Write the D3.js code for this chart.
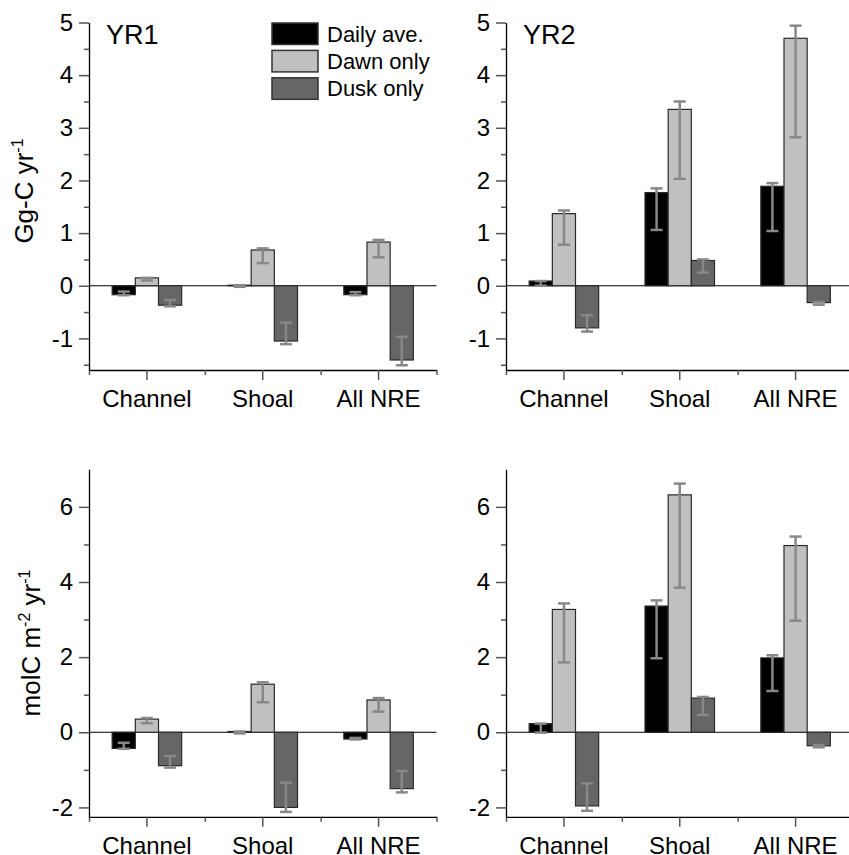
<!DOCTYPE html>
<html>
<head>
<meta charset="utf-8">
<script src="https://cdn.jsdelivr.net/npm/d3@7"></script>
<style>
  body { margin: 0; background: #fff; }
  text { font-family: "Liberation Sans", Arial, sans-serif; }
</style>
</head>
<body>
<svg width="849" height="855"></svg>
<script>
var categories = ["Channel", "Shoal", "All NRE"];
var series = ["Daily ave.", "Dawn only", "Dusk only"];
var colors = ["#000000", "#c0c0c0", "#666666"];

// per category: [daily, dawn, dusk]
var ggYR1 = [[-0.17, 0.15, -0.37], [0.01, 0.68, -1.05], [-0.17, 0.83, -1.41]];
var ggYR1Lo = [[-0.18, 0.10, -0.39], [-0.02, 0.43, -1.11], [-0.18, 0.54, -1.51]];
var ggYR1Hi = [[-0.11, 0.15, -0.27], [0.01, 0.71, -0.70], [-0.12, 0.87, -0.97]];

var ggYR2 = [[0.09, 1.37, -0.80], [1.77, 3.35, 0.48], [1.89, 4.70, -0.32]];
var ggYR2Lo = [[0.00, 0.78, -0.87], [1.06, 2.03, 0.25], [1.04, 2.82, -0.36]];
var ggYR2Hi = [[0.09, 1.43, -0.56], [1.85, 3.50, 0.50], [1.95, 4.94, -0.31]];

var molYR1 = [[-0.43, 0.35, -0.89], [0.02, 1.28, -2.00], [-0.18, 0.86, -1.50]];
var molYR1Lo = [[-0.44, 0.24, -0.94], [-0.03, 0.80, -2.12], [-0.19, 0.55, -1.60]];
var molYR1Hi = [[-0.28, 0.38, -0.63], [0.02, 1.33, -1.34], [-0.15, 0.91, -1.03]];

var molYR2 = [[0.23, 3.27, -1.96], [3.36, 6.32, 0.91], [1.98, 4.97, -0.36]];
var molYR2Lo = [[-0.01, 1.86, -2.09], [1.97, 3.85, 0.46], [1.10, 2.97, -0.40]];
var molYR2Hi = [[0.23, 3.43, -1.36], [3.51, 6.62, 0.94], [2.05, 5.21, -0.34]];

var ggTicks = [-1, 0, 1, 2, 3, 4, 5];
var ggMinor = [-1.5, -0.5, 0.5, 1.5, 2.5, 3.5, 4.5];
var molTicks = [-2, 0, 2, 4, 6];
var molMinor = [-1, 1, 3, 5];

var svg = d3.select("svg"),
    W = 347.5,
    H = 347.5;

var panels = [
  {left: 89, top: 22.5, vals: ggYR1, lo: ggYR1Lo, hi: ggYR1Hi, domain: [-1.6, 5], ticks: ggTicks, minor: ggMinor, label: "YR1"},
  {left: 506, top: 22.5, vals: ggYR2, lo: ggYR2Lo, hi: ggYR2Hi, domain: [-1.6, 5], ticks: ggTicks, minor: ggMinor, label: "YR2"},
  {left: 89, top: 469.3, vals: molYR1, lo: molYR1Lo, hi: molYR1Hi, domain: [-2.25, 7], ticks: molTicks, minor: molMinor},
  {left: 506, top: 469.3, vals: molYR2, lo: molYR2Lo, hi: molYR2Hi, domain: [-2.25, 7], ticks: molTicks, minor: molMinor}
];

panels.forEach(function(p) {
  var g = svg.append("g").attr("transform", "translate(" + p.left + "," + p.top + ")");

  var x = d3.scaleBand().domain(categories).range([0, W]);
  var xs = d3.scaleBand().domain(series).range([x.bandwidth() * 0.2, x.bandwidth() * 0.8]);
  var xl = d3.scaleLinear().domain([0, 3]).range([0, W]);
  var y = d3.scaleLinear().domain(p.domain).range([H, 0]);

  // zero line
  g.append("line")
    .attr("x1", 0).attr("x2", W)
    .attr("y1", y(0)).attr("y2", y(0))
    .attr("stroke", "#000").attr("stroke-width", 1);

  var rows = [];
  categories.forEach(function(c, i) {
    series.forEach(function(s, j) {
      rows.push({cat: c, s: s, j: j, v: p.vals[i][j], lo: p.lo[i][j], hi: p.hi[i][j]});
    });
  });

  g.selectAll(".bar")
    .data(rows)
    .enter().append("rect")
    .attr("class", "bar")
    .attr("x", function(d) { return x(d.cat) + xs(d.s); })
    .attr("width", xs.bandwidth())
    .attr("y", function(d) { return y(Math.max(0, d.v)); })
    .attr("height", function(d) { return Math.abs(y(d.v) - y(0)); })
    .attr("fill", function(d) { return colors[d.j]; })
    .attr("stroke", "#2a2a2a")
    .attr("stroke-width", 1.2);

  // error bars
  var eb = g.selectAll(".err")
    .data(rows)
    .enter().append("g")
    .attr("class", "err")
    .attr("stroke", "#888")
    .attr("stroke-width", 2.5);

  eb.append("line")
    .attr("x1", function(d) { return x(d.cat) + xs(d.s) + xs.bandwidth() / 2; })
    .attr("x2", function(d) { return x(d.cat) + xs(d.s) + xs.bandwidth() / 2; })
    .attr("y1", function(d) { return y(d.lo); })
    .attr("y2", function(d) { return y(d.hi); });

  ["lo", "hi"].forEach(function(k) {
    eb.append("line")
      .attr("x1", function(d) { return x(d.cat) + xs(d.s) + xs.bandwidth() / 2 - 6; })
      .attr("x2", function(d) { return x(d.cat) + xs(d.s) + xs.bandwidth() / 2 + 6; })
      .attr("y1", function(d) { return y(d[k]); })
      .attr("y2", function(d) { return y(d[k]); });
  });

  // axes
  g.append("g")
    .attr("transform", "translate(0," + H + ")")
    .call(d3.axisBottom(x).tickSize(10).tickSizeOuter(0).tickPadding(10));
  g.append("g")
    .attr("transform", "translate(0," + H + ")")
    .call(d3.axisBottom(xl).tickValues([0, 1, 2, 3]).tickSize(5).tickFormat(""))
    .select(".domain").remove();

  g.append("g")
    .call(d3.axisLeft(y).tickValues(p.ticks).tickSize(10).tickSizeOuter(0).tickPadding(6)
      .tickFormat(function(d) { return String(d); }));
  g.append("g")
    .call(d3.axisLeft(y).tickValues(p.minor).tickSize(5).tickFormat(""))
    .select(".domain").remove();

  g.selectAll(".domain").attr("stroke", "#000").attr("stroke-width", 1.3);
  g.selectAll(".tick line").attr("stroke", "#555").attr("stroke-width", 1.5);
  g.selectAll(".tick text")
    .attr("fill", "#000")
    .style("font-size", "24px")
    .style("font-family", "'Liberation Sans', Arial, sans-serif");

  if (p.label) {
    g.append("text")
      .attr("x", 17).attr("y", 21)
      .style("font-size", "27px")
      .text(p.label);
  }
});

// y axis titles
var t1 = svg.append("text")
  .attr("transform", "translate(33,191) rotate(-90)")
  .attr("text-anchor", "middle")
  .style("font-size", "26px");
t1.append("tspan").text("Gg-C yr");
t1.append("tspan").attr("dy", -10).style("font-size", "16px").text("-1");

var t2 = svg.append("text")
  .attr("transform", "translate(40,643) rotate(-90)")
  .attr("text-anchor", "middle")
  .style("font-size", "26px");
t2.append("tspan").text("molC m");
t2.append("tspan").attr("dy", -10).style("font-size", "16px").text("-2");
t2.append("tspan").attr("dy", 10).text(" yr");
t2.append("tspan").attr("dy", -10).style("font-size", "16px").text("-1");

// legend
var legend = svg.append("g").attr("transform", "translate(272,23)");
var li = legend.selectAll(".li")
  .data(series)
  .enter().append("g")
  .attr("class", "li")
  .attr("transform", function(d, i) { return "translate(0," + (i * 27.4) + ")"; });
li.append("rect")
  .attr("width", 46).attr("height", 21.5)
  .attr("fill", function(d, i) { return colors[i]; })
  .attr("stroke", "#333").attr("stroke-width", 1.5);
li.append("text")
  .attr("x", 55).attr("y", 18.5)
  .style("font-size", "22px")
  .text(function(d) { return d; });
</script>
</body>
</html>
